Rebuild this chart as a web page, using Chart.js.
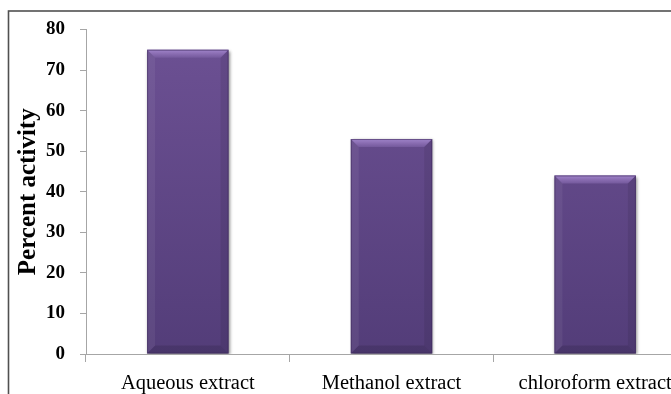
<!DOCTYPE html>
<html>
<head>
<meta charset="utf-8">
<script src="https://cdn.jsdelivr.net/npm/chart.js@4.4.0/dist/chart.umd.min.js"></script>
<style>
  html, body { margin: 0; padding: 0; background: #fff; overflow: hidden; }
  #wrap { width: 671px; height: 394px; overflow: hidden; position: relative; }
  canvas { display: block; }
</style>
</head>
<body>
<div id="wrap"><canvas id="c" width="720" height="394"></canvas></div>
<script>
// Percent activity of the three extracts
const categories = ['Aqueous extract', 'Methanol extract', 'chloroform extract'];
const activity = [75, 53, 44];
const yTicks = [0, 10, 20, 30, 40, 50, 60, 70, 80];

const serif = '"Liberation Serif", "Times New Roman", Times, serif';

// Frame around the figure (left and top edges visible)
const framePlugin = {
  id: 'frame',
  beforeDraw(chart) {
    const ctx = chart.ctx;
    ctx.save();
    ctx.strokeStyle = '#505050';
    ctx.lineWidth = 1.6;
    ctx.strokeRect(8.5, 11, chart.width + 20, chart.height + 20);
    ctx.restore();
  }
};

// Soft shadow under the bars and a bevelled edge on top of them
const bevelPlugin = {
  id: 'bevel',
  beforeDatasetsDraw(chart) {
    const ctx = chart.ctx;
    ctx.save();
    ctx.shadowColor = 'rgba(0,0,0,0.45)';
    ctx.shadowBlur = 3;
    ctx.shadowOffsetX = 1;
    ctx.shadowOffsetY = 1;
  },
  afterDatasetsDraw(chart) {
    const ctx = chart.ctx;
    ctx.restore();
    const meta = chart.getDatasetMeta(0);
    meta.data.forEach(bar => {
      const p = bar.getProps(['x', 'y', 'base', 'width'], true);
      const L = p.x - p.width / 2, R = p.x + p.width / 2;
      const T = p.y, B = p.base;
      const b = 8;
      ctx.save();
      // top facet
      let g = ctx.createLinearGradient(0, T, 0, T + b);
      g.addColorStop(0, '#a084ca');
      g.addColorStop(0.5, '#8a6db2');
      g.addColorStop(1, '#74599c');
      ctx.fillStyle = g;
      ctx.beginPath();
      ctx.moveTo(L, T); ctx.lineTo(R, T); ctx.lineTo(R - b, T + b); ctx.lineTo(L + b, T + b);
      ctx.closePath(); ctx.fill();
      // left facet
      ctx.fillStyle = 'rgba(255,255,255,0.06)';
      ctx.beginPath();
      ctx.moveTo(L, T); ctx.lineTo(L + b, T + b); ctx.lineTo(L + b, B - b); ctx.lineTo(L, B);
      ctx.closePath(); ctx.fill();
      // right facet
      ctx.fillStyle = 'rgba(0,0,0,0.08)';
      ctx.beginPath();
      ctx.moveTo(R, T); ctx.lineTo(R - b, T + b); ctx.lineTo(R - b, B - b); ctx.lineTo(R, B);
      ctx.closePath(); ctx.fill();
      // bottom facet
      ctx.fillStyle = 'rgba(0,0,0,0.12)';
      ctx.beginPath();
      ctx.moveTo(L, B); ctx.lineTo(L + b, B - b); ctx.lineTo(R - b, B - b); ctx.lineTo(R, B);
      ctx.closePath(); ctx.fill();
      // thin outline
      ctx.strokeStyle = 'rgba(60,40,90,0.55)';
      ctx.lineWidth = 1;
      ctx.strokeRect(L + 0.5, T + 0.5, p.width - 1, B - T - 1);
      ctx.restore();
    });
  }
};

const ctx = document.getElementById('c').getContext('2d');
new Chart(ctx, {
  type: 'bar',
  data: {
    labels: categories,
    datasets: [{
      data: activity,
      backgroundColor(c) {
        const area = c.chart.chartArea;
        if (!area) return '#5f4785';
        const g = c.chart.ctx.createLinearGradient(0, area.top, 0, area.bottom);
        g.addColorStop(0, '#6d5194');
        g.addColorStop(1, '#533d79');
        return g;
      },
      borderWidth: 0,
      categoryPercentage: 0.8,
      barPercentage: 0.5
    }]
  },
  options: {
    responsive: false,
    animation: false,
    devicePixelRatio: 1,
    layout: { padding: { left: 0, top: 29.5, right: 23, bottom: 0 } },
    plugins: {
      legend: { display: false },
      tooltip: { enabled: false }
    },
    scales: {
      x: {
        grid: { display: true, drawOnChartArea: false, offset: true, color: '#a6a6a6', tickLength: 8 },
        border: { color: '#a6a6a6', width: 1 },
        ticks: { color: '#000', font: { family: serif, size: 20.5 }, padding: 9, maxRotation: 0, autoSkip: false },
        afterFit(s) { s.height = 40; }
      },
      y: {
        min: 0, max: 80,
        afterBuildTicks(s) { s.ticks = yTicks.map(v => ({ value: v })); },
        grid: { display: true, drawOnChartArea: false, color: '#a6a6a6', tickLength: 6 },
        border: { color: '#a6a6a6', width: 1 },
        ticks: { color: '#000', font: { family: serif, size: 19, weight: 'bold' }, padding: 15 },
        title: {
          display: true,
          text: 'Percent activity',
          color: '#000',
          font: { family: serif, size: 25, weight: 'bold' },
          padding: { top: 14, bottom: 0 }
        },
        afterFit(s) { s.width = 86; }
      }
    }
  },
  plugins: [framePlugin, bevelPlugin]
});
</script>
</body>
</html>
